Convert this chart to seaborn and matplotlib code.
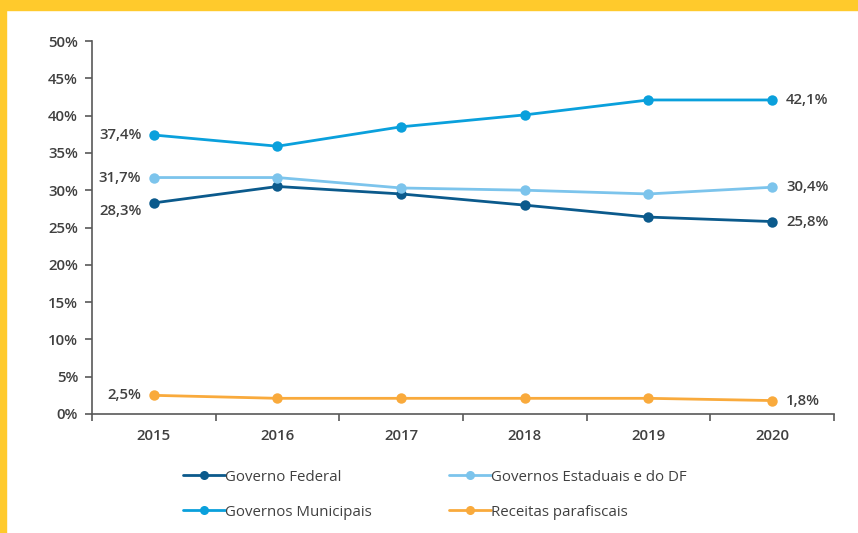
import matplotlib
matplotlib.use('Agg')
import matplotlib.pyplot as plt
import pandas as pd
import seaborn as sns
from matplotlib.patches import Rectangle

years = ['2015', '2016', '2017', '2018', '2019', '2020']
series_names = ['Governo Federal', 'Governos Estaduais e do DF',
                'Governos Municipais', 'Receitas parafiscais']
federal = [28.3, 30.5, 29.5, 28.0, 26.4, 25.8]
estaduais = [31.7, 31.7, 30.3, 30.0, 29.5, 30.4]
municipais = [37.4, 35.9, 38.5, 40.1, 42.1, 42.1]
parafiscais = [2.5, 2.1, 2.1, 2.1, 2.1, 1.8]
colors = ['#0b5a8c', '#7cc4ec', '#0aa0dc', '#f9aa3c']

values = [federal, estaduais, municipais, parafiscais]
df = pd.DataFrame({
    'ano': years * 4,
    'serie': [n for n in series_names for _ in years],
    'valor': [v for s in values for v in s],
})

sns.set_style('white')
plt.rcParams['font.family'] = ['Open Sans', 'DejaVu Sans']
text_color = '#404040'
fs = 10.8

fig = plt.figure(figsize=(8.58, 5.33), dpi=100)
ax = fig.add_axes([0.1072, 0.2233, 0.8648, 0.6997])

sns.lineplot(data=df, x='ano', y='valor', hue='serie', hue_order=series_names,
             palette=colors, marker='o', markersize=7.5, markeredgewidth=0,
             linewidth=2, sort=False, ax=ax, legend=True)

ax.set_xlim(-0.5, 5.5)
ax.set_ylim(0, 50)
ax.set_yticks(range(0, 51, 5))
ax.set_yticklabels([f'{v}%' for v in range(0, 51, 5)])
ax.set_xticks(range(len(years)))
ax.set_xticklabels(years)
ax.set_xticks([i - 0.5 for i in range(len(years) + 1)], minor=True)
ax.tick_params(axis='x', which='major', length=0, pad=11, labelsize=fs,
               labelcolor=text_color)
ax.tick_params(axis='x', which='minor', length=5, width=1.2, color='#595959',
               direction='out', bottom=True)
ax.tick_params(axis='y', length=5, width=1.2, color='#595959', direction='out',
               left=True, labelsize=fs, labelcolor=text_color, pad=5)
for lbl in ax.get_xticklabels() + ax.get_yticklabels():
    lbl.set_fontweight('semibold')
ax.set_xlabel('')
ax.set_ylabel('')
sns.despine(ax=ax)
for side in ['left', 'bottom']:
    ax.spines[side].set_color('#595959')
    ax.spines[side].set_linewidth(1.2)

# rótulos inicial e final
left_offsets = [-6, 0, 0, 0]
for s, c, dy in zip(values, colors, left_offsets):
    ax.annotate(f'{s[0]:.1f}%'.replace('.', ','), (0, s[0]),
                xytext=(-9, dy), textcoords='offset points',
                ha='right', va='center', fontsize=fs, fontweight='semibold',
                color=text_color)
    ax.annotate(f'{s[-1]:.1f}%'.replace('.', ','), (5, s[-1]),
                xytext=(10, 0), textcoords='offset points',
                ha='left', va='center', fontsize=fs, fontweight='semibold',
                color=text_color)

handles, labels = ax.get_legend_handles_labels()
ax.get_legend().remove()
order = [0, 2, 1, 3]
for h in handles:
    h.set_markersize(6.5)
fig.legend([handles[i] for i in order], [labels[i] for i in order],
           loc='upper left', bbox_to_anchor=(0.197, 0.144),
           ncol=2, frameon=False, fontsize=fs, handlelength=2.8,
           handletextpad=0.05, columnspacing=5.1, labelspacing=1.32,
           labelcolor=text_color)

# moldura amarela
fig.patches.append(Rectangle((0, 1 - 10 / 533), 1, 10 / 533,
                             transform=fig.transFigure, color='#ffca2c',
                             zorder=0))
fig.patches.append(Rectangle((0, 0), 6 / 858, 1, transform=fig.transFigure,
                             color='#ffca2c', zorder=0))

fig.savefig('out.png', dpi=100)
